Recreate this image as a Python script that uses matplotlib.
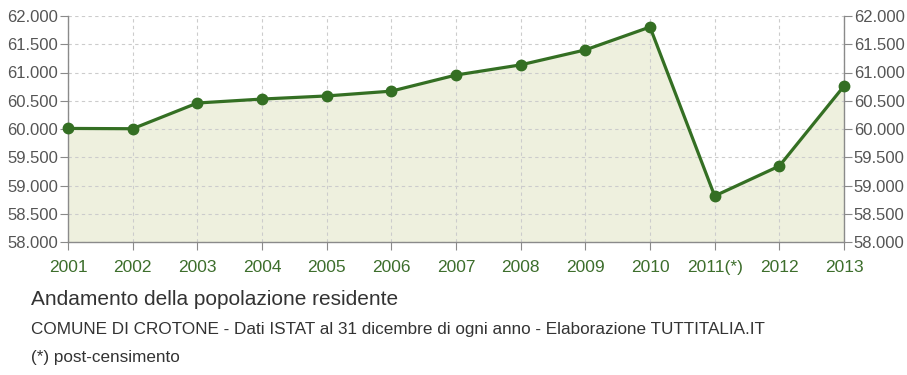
import matplotlib
matplotlib.use("Agg")
import matplotlib.pyplot as plt
from matplotlib.ticker import FuncFormatter

plt.rcParams['font.family'] = ['Liberation Sans', 'DejaVu Sans']

# anni e popolazione residente
anni = ["2001", "2002", "2003", "2004", "2005", "2006", "2007",
        "2008", "2009", "2010", "2011(*)", "2012", "2013"]
popolazione = [60010, 60005, 60460, 60530, 60585, 60670, 60955,
               61135, 61400, 61805, 58815, 59345, 60760]
y_ticks = [58000, 58500, 59000, 59500, 60000, 60500, 61000, 61500, 62000]

line_col = "#346f23"
fill_col = "#eef0de"
grey = "#555555"

fig = plt.figure(figsize=(9.07, 3.75), dpi=100)
ax = fig.add_axes([68 / 907, 1 - 242 / 375, (844 - 68) / 907, (242 - 16) / 375])

x = list(range(len(anni)))
ax.fill_between(x, popolazione, 58000, color=fill_col, zorder=1)
ax.plot(x, popolazione, color=line_col, lw=2.3, marker="o", ms=7.5,
        zorder=3, clip_on=False)

ax.set_xlim(0, len(anni) - 1)
ax.set_ylim(58000, 62000)
ax.set_xticks(x)
ax.set_xticklabels(anni)
ax.set_yticks(y_ticks)
fmt = FuncFormatter(lambda v, p: f"{int(v):,}".replace(",", "."))
ax.yaxis.set_major_formatter(fmt)

# griglia tratteggiata
ax.grid(color="#cccccc", linestyle=(0, (3, 3)), lw=0.8, zorder=0)

ax.spines["top"].set_visible(False)
for s in ["left", "right", "bottom"]:
    ax.spines[s].set_color("#8a8a8a")
    ax.spines[s].set_linewidth(1.0)

ax.tick_params(axis="y", colors="#8a8a8a", labelcolor=grey, labelsize=12,
               length=6, left=True, right=True, labelleft=True, labelright=True, pad=1)
ax.tick_params(axis="x", colors="#8a8a8a", labelcolor="#3d6e2c", labelsize=12.5,
               length=6, pad=7)

fig.text(31 / 907, 1 - 305 / 375, "Andamento della popolazione residente",
         fontsize=15, color="#333333", va="baseline")
fig.text(31 / 907, 1 - 334 / 375,
         "COMUNE DI CROTONE - Dati ISTAT al 31 dicembre di ogni anno - Elaborazione TUTTITALIA.IT",
         fontsize=12.3, color="#333333", va="baseline")
fig.text(31 / 907, 1 - 362 / 375, "(*) post-censimento",
         fontsize=12.3, color="#333333", va="baseline")

fig.savefig("out.png", dpi=100)
